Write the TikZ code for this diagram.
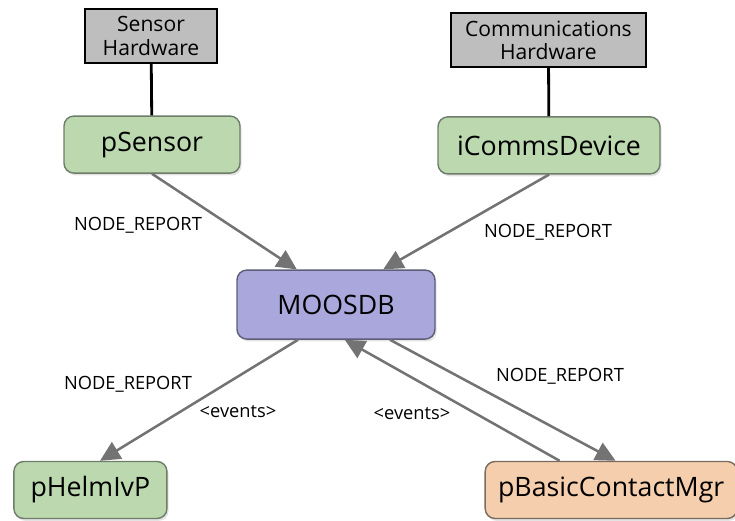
\documentclass[tikz,border=0pt]{standalone}
\usepackage{fontspec}
\setmainfont{Open Sans}
\usetikzlibrary{arrows.meta,shadows}
\definecolor{hwgray}{HTML}{BEBEBE}
\definecolor{appgreen}{HTML}{BBD8AF}
\definecolor{greenedge}{HTML}{6D7D69}
\definecolor{dblilac}{HTML}{A9A7DB}
\definecolor{lilacedge}{HTML}{5E5D78}
\definecolor{mgrpeach}{HTML}{F5CEAD}
\definecolor{peachedge}{HTML}{7B6B5F}
\definecolor{wire}{HTML}{737373}

\begin{document}
\begin{tikzpicture}[>=Triangle]
  \tikzset{
    hardware/.style={draw=black,line width=1.5pt,fill=hwgray,minimum width=3.3cm,minimum height=1.35cm,align=center,inner sep=1pt,font=\fontsize{15}{16.4}\selectfont},
    app/.style={draw=greenedge,line width=1pt,fill=appgreen,rounded corners=7pt,minimum height=1.425cm,font=\fontsize{19}{22}\selectfont,drop shadow={opacity=.22,shadow xshift=.04cm,shadow yshift=-.06cm}},
    db/.style={app,draw=lilacedge,fill=dblilac,minimum width=4.95cm,minimum height=1.725cm},
    mgr/.style={app,draw=peachedge,fill=mgrpeach},
    msg/.style={font=\fontsize{13}{15}\selectfont},
    link/.style={black,line width=2pt},
    flow/.style={wire,line width=1.8pt,-{Triangle[length=5mm,width=4.8mm]}}
  }
  \useasboundingbox (0,0) rectangle (18.375,13.025);

  % Hardware and drivers.
  \node[hardware] (shw) at (3.775,12.125) {Sensor\\Hardware};
  \node[hardware,minimum width=4.875cm] (chw) at (13.71,12.025) {Communications\\Hardware};
  \node[app,minimum width=4.4cm] (sensor) at (3.8,9.41) {pSensor};
  \node[app,minimum width=5.55cm] (comms) at (13.725,9.39) {iCommsDevice};
  \draw[link] (shw)--(sensor);
  \draw[link] (chw)--(comms);

  % Database.
  \node[db] (moos) at (8.4,5.41) {MOOSDB};

  % Clients.
  \node[app,minimum width=3.825cm] (helm) at (2.26,0.775) {pHelmIvP};
  \node[mgr,minimum width=6.3cm] (bcm) at (15.28,0.775) {pBasicContactMgr};

  \draw[flow] (sensor.south)--([xshift=-.98cm]moos.north);
  \draw[flow] (comms.south)--([xshift=1.18cm]moos.north);
  \draw[flow] ([xshift=-.95cm]moos.south)--([xshift=.24cm]helm.north);
  \draw[flow] ([xshift=1.35cm]moos.south)--([xshift=.11cm]bcm.north);
  \draw[flow] ([xshift=-1.29cm]bcm.north)--([xshift=.22cm]moos.south);

  % Messages.
  \node[msg] (m1) at (3.45,7.4) {NODE\_REPORT};
  \node[msg] (m2) at (13.7,7.225) {NODE\_REPORT};
  \node[msg] (m3) at (3.2,3.425) {NODE\_REPORT};
  \node[msg] (m4) at (14.0,3.625) {NODE\_REPORT};
  \node[msg] (e1) at (5.95,2.725) {<events>};
  \node[msg] (e2) at (10.3,2.675) {<events>};
\end{tikzpicture}
\end{document}
